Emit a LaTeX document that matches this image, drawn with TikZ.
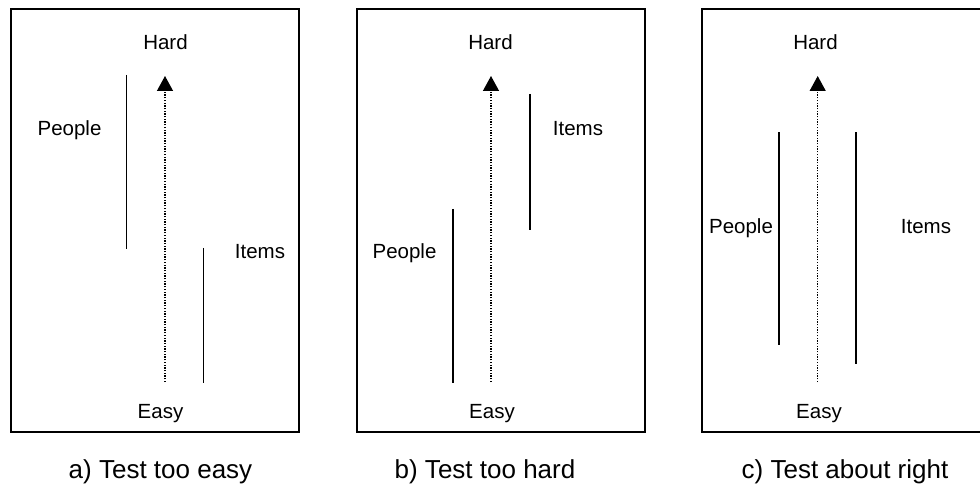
\documentclass[tikz,border=0pt]{standalone}
\usepackage{fontspec}
\setmainfont{Liberation Sans}
\usetikzlibrary{arrows.meta}
\tikzset{
  panel/.style={draw=black, line width=1.8pt},
  bar/.style={draw=black, line width=1.8pt},
  axisarrow/.style={draw=black, line width=1.3pt, dash pattern=on 1.3pt off 1.4pt,
    -{Triangle[width=16pt,length=15pt]}},
  lbl/.style={anchor=base, inner sep=0pt, font=\fontsize{20.5}{24}\selectfont},
  captiontext/.style={anchor=base, inner sep=0pt, font=\fontsize{26}{30}\selectfont}
}
\begin{document}
\begin{tikzpicture}[x=1pt,y=-1pt]
\useasboundingbox (0,0) rectangle (980,486);
\clip (0,0) rectangle (980,486);

% ---------- panel a ----------
\draw[panel] (11,9) rectangle (299,432);
\coordinate (aEb) at (165,382);
\coordinate (aEt) at (165,76);
\draw[axisarrow] (aEb) -- (aEt);
\coordinate (aP1) at (126.5,75);
\coordinate (aP2) at (126.5,249);
\draw[bar] (aP1) -- (aP2);
\coordinate (aI1) at (203.5,248);
\coordinate (aI2) at (203.5,383);
\draw[bar] (aI1) -- (aI2);
\node[lbl] (aHard) at (165.5,50) {Hard};
\node[lbl] (aEasy) at (160.5,418) {Easy};
\node[lbl] (aPeople) at (69.5,136) {People};
\node[lbl] (aItems) at (260,259) {Items};
\node[captiontext] (aCap) at (160.5,478) {a) Test too easy};

% ---------- panel b ----------
\draw[panel] (357,9) rectangle (645,432);
\coordinate (bEb) at (491,382);
\coordinate (bEt) at (491,76);
\draw[axisarrow] (bEb) -- (bEt);
\coordinate (bP1) at (453,209);
\coordinate (bP2) at (453,383);
\draw[bar] (bP1) -- (bP2);
\coordinate (bI1) at (530,94);
\coordinate (bI2) at (530,230);
\draw[bar] (bI1) -- (bI2);
\node[lbl] (bHard) at (490.5,50) {Hard};
\node[lbl] (bEasy) at (492,418) {Easy};
\node[lbl] (bPeople) at (404.5,259) {People};
\node[lbl] (bItems) at (578,136) {Items};
\node[captiontext] (bCap) at (485,478) {b) Test too hard};

% ---------- panel c ----------
\draw[panel] (702,9) rectangle (990,432);
\coordinate (cEb) at (817.7,382);
\coordinate (cEt) at (817.7,76);
\draw[axisarrow] (cEb) -- (cEt);
\coordinate (cP1) at (779.3,132.5);
\coordinate (cP2) at (779.3,345);
\draw[bar] (cP1) -- (cP2);
\coordinate (cI1) at (856.3,132.5);
\coordinate (cI2) at (856.3,364);
\draw[bar] (cI1) -- (cI2);
\node[lbl] (cHard) at (815.5,50) {Hard};
\node[lbl] (cEasy) at (819,418) {Easy};
\node[lbl] (cPeople) at (741,234) {People};
\node[lbl] (cItems) at (926,234) {Items};
\node[captiontext] (cCap) at (845,478) {c) Test about right};
\end{tikzpicture}
\end{document}
